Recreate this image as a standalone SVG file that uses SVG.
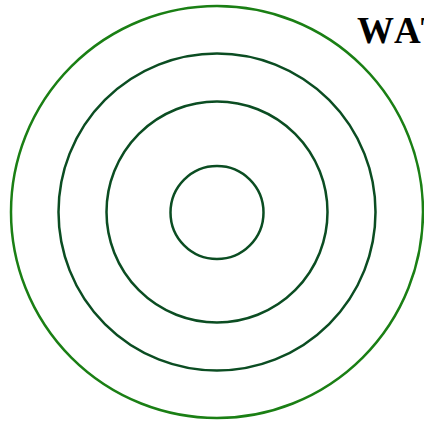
<svg xmlns="http://www.w3.org/2000/svg" width="424" height="423" viewBox="0 0 424 423">
<style>
.ring{fill:none;stroke:#0b4d22;stroke-width:2.5}
.outer{fill:none;stroke:#1a7f14;stroke-width:2.5}
.title{font-family:"Liberation Serif","Times New Roman",serif;font-weight:bold;font-size:37px;fill:#000;font-kerning:none}
</style>
<rect width="424" height="423" fill="#fff"/>
<g id="ring-outer"><circle class="outer" cx="217" cy="212" r="206"/></g>
<g id="ring-2"><circle class="ring" cx="217" cy="212" r="158.5"/></g>
<g id="ring-3"><circle class="ring" cx="217" cy="212" r="110.5"/></g>
<g id="ring-inner"><circle class="ring" cx="217" cy="212.5" r="46.5"/></g>
<g id="connectors"></g>
<g id="label"><text class="title" x="357" y="43">WAT</text></g>
</svg>
